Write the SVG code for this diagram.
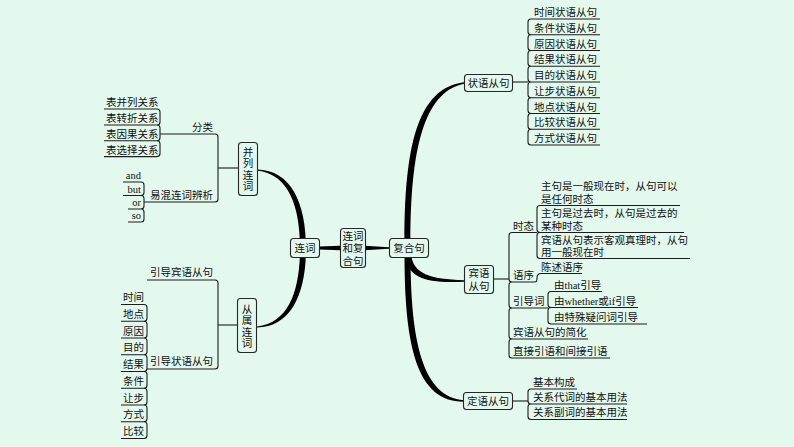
<svg xmlns="http://www.w3.org/2000/svg" width="794" height="447" viewBox="0 0 794 447">
<style>
.ln{fill:none;stroke:#1c1c1c;stroke-width:1.1}
.th{fill:#000;stroke:none}
.nd rect{fill:#e3f9ee;stroke:#262626;stroke-width:1.1}
text{font-family:"Liberation Serif","Noto Sans CJK SC","Noto Sans CJK JP",serif;font-size:10.5px;fill:#111}
.c{text-anchor:middle}
.e{text-anchor:end}
</style>
<rect width="794" height="447" fill="#e3f9ee"/>
<g id="connectors">
<path class="th" d="M319,246.6 L340,245.8 L340,250.2 L319,249.4 Z"/>
<path class="th" d="M365,245.8 L389,247.2 L389,248.8 L365,250.2 Z"/>
<path class="th" d="M257,169.5 C291,170 306,203 306,248 L300,248 C300,207 289,174 257,170.5 Z"/>
<path class="th" d="M257,327.5 C291,327 306,294 306,248 L300,248 C300,290 289,323 257,326.5 Z"/>
<path class="th" d="M404.5,242 C404.5,148 417,88 464,82.3 L464,83.7 C423,92 410.5,152 410.5,242 Z"/>
<path class="th" d="M404.5,254 C404.5,347 417,402 464,401.7 L464,400.3 C423,397 410.5,343 410.5,254 Z"/>
<path class="th" d="M405,254 C407,279 428,283.5 464,281.7 L464,280.3 C430,279 413,274 411,254 Z"/>
<path class="ln" d="M512,82H528"/>
<path class="ln" d="M600,19H531Q528,19 528,22V31.75Q528,34.75 531,34.75H600M531,34.75Q528,34.75 528,37.75V47.5Q528,50.5 531,50.5H600M531,50.5Q528,50.5 528,53.5V63.25Q528,66.25 531,66.25H600M531,66.25Q528,66.25 528,69.25V79Q528,82 531,82H600M531,82Q528,82 528,85V94.75Q528,97.75 531,97.75H600M531,97.75Q528,97.75 528,100.75V110.5Q528,113.5 531,113.5H600M531,113.5Q528,113.5 528,116.5V126.25Q528,129.25 531,129.25H600M531,129.25Q528,129.25 528,132.25V142Q528,145 531,145H600"/>
<path class="ln" d="M493,279H509"/>
<path class="ln" d="M537,232.5H512Q509,232.5 509,235.5V279Q509,282 512,282H535M512,282Q509,282 509,285V305Q509,308 512,308H548M512,308Q509,308 509,311V336Q509,339 512,339H588M512,339Q509,339 509,342V355Q509,358 512,358H610"/>
<path class="ln" d="M680,205.5H540Q537,205.5 537,208.5V229.5Q537,232.5 540,232.5H684M540,232.5Q537,232.5 537,235.5V255.5Q537,258.5 540,258.5H690"/>
<path class="ln" d="M535,282Q537,282 537,278Q537,273.5 541,273.5H582"/>
<path class="ln" d="M602,291.5H551Q548,291.5 548,294.5V304.5Q548,307.5 551,307.5H638M551,307.5Q548,307.5 548,310.5V321Q548,324 551,324H647"/>
<path class="ln" d="M512,401H528"/>
<path class="ln" d="M577,389H531Q528,389 528,392V401Q528,404 531,404H627M531,404Q528,404 528,407V416.5Q528,419.5 531,419.5H627"/>
<path class="ln" d="M218,168H238"/>
<path class="ln" d="M160,134H215Q218,134 218,137V199Q218,202 215,202H144"/>
<path class="ln" d="M104,109H157Q160,109 160,112V122Q160,125 157,125H104M157,125Q160,125 160,128V137.8Q160,140.8 157,140.8H104M157,140.8Q160,140.8 160,143.8V153.6Q160,156.6 157,156.6H104"/>
<path class="ln" d="M123,182H141Q144,182 144,185V192.5Q144,195.5 141,195.5H123M141,195.5Q144,195.5 144,198.5V206Q144,209 141,209H128M141,209Q144,209 144,212V219Q144,222 141,222H128"/>
<path class="ln" d="M218,325H237.5"/>
<path class="ln" d="M147,280H215Q218,280 218,283V366Q218,369 215,369H147"/>
<path class="ln" d="M121,304.5H144Q147,304.5 147,307.5V318.25Q147,321.25 144,321.25H121M144,321.25Q147,321.25 147,324.25V335Q147,338 144,338H121M144,338Q147,338 147,341V351.75Q147,354.75 144,354.75H121M144,354.75Q147,354.75 147,357.75V368.5Q147,371.5 144,371.5H121M144,371.5Q147,371.5 147,374.5V385.25Q147,388.25 144,388.25H121M144,388.25Q147,388.25 147,391.25V402Q147,405 144,405H121M144,405Q147,405 147,408V418.75Q147,421.75 144,421.75H121M144,421.75Q147,421.75 147,424.75V435.5Q147,438.5 144,438.5H121"/>
</g>
<g id="root" class="nd"><rect x="340.5" y="228.5" width="25" height="39" rx="3"/><text class="c" x="353" y="239.5">连词</text><text class="c" x="353" y="252">和复</text><text class="c" x="353" y="264.5">合句</text></g>
<g id="fuhejv" class="nd"><rect x="389.5" y="238.5" width="39" height="19" rx="3"/><text class="c" x="409" y="252">复合句</text></g>
<g id="lianci" class="nd"><rect x="290.5" y="238.5" width="29" height="19" rx="3"/><text class="c" x="305" y="252">连词</text></g>
<g id="zhuangyu" class="nd"><rect x="464.5" y="74.5" width="48" height="17" rx="3"/><text class="c" x="488.5" y="87">状语从句</text></g>
<g id="binyu" class="nd"><rect x="464.5" y="265.5" width="29" height="28" rx="3"/><text class="c" x="479" y="277">宾语</text><text class="c" x="479" y="289.5">从句</text></g>
<g id="dingyu" class="nd"><rect x="463.5" y="392.5" width="49" height="17" rx="3"/><text class="c" x="488" y="405">定语从句</text></g>
<g id="binglie" class="nd"><rect x="238.5" y="142.5" width="19" height="53" rx="3"/><text class="c" x="248" y="155.5">并</text><text class="c" x="248" y="167">列</text><text class="c" x="248" y="178.5">连</text><text class="c" x="248" y="190">词</text></g>
<g id="congshu" class="nd"><rect x="237.5" y="298.5" width="19" height="54" rx="3"/><text class="c" x="247" y="312.5">从</text><text class="c" x="247" y="324">属</text><text class="c" x="247" y="335.5">连</text><text class="c" x="247" y="347">词</text></g>
<g id="zhuangyu-items">
<text x="534" y="16">时间状语从句</text><text x="534" y="31.75">条件状语从句</text><text x="534" y="47.5">原因状语从句</text><text x="534" y="63.25">结果状语从句</text><text x="534" y="79">目的状语从句</text><text x="534" y="94.75">让步状语从句</text><text x="534" y="110.5">地点状语从句</text><text x="534" y="126.25">比较状语从句</text><text x="534" y="142">方式状语从句</text>
</g>
<g id="binyu-items">
<text x="513" y="229.5">时态</text><text x="513" y="279">语序</text><text x="513" y="305">引导词</text><text x="513" y="336">宾语从句的简化</text><text x="513" y="355">直接引语和间接引语</text>
<text x="541" y="190">主句是一般现在时，从句可以</text><text x="541" y="203">是任何时态</text>
<text x="541" y="217">主句是过去时，从句是过去的</text><text x="541" y="230">某种时态</text>
<text x="541" y="244">宾语从句表示客观真理时，从句</text><text x="541" y="255.5">用一般现在时</text>
<text x="541" y="270.5">陈述语序</text>
<text x="554" y="288.5">由that引导</text><text x="554" y="304.5">由whether或if引导</text><text x="554" y="321">由特殊疑问词引导</text>
</g>
<g id="dingyu-items">
<text x="533" y="385.5">基本构成</text><text x="533" y="400.5">关系代词的基本用法</text><text x="533" y="416">关系副词的基本用法</text>
</g>
<g id="binglie-items">
<text x="192" y="130.5">分类</text><text x="150" y="198.5">易混连词辨析</text>
<text x="106" y="106">表并列关系</text><text x="106" y="122">表转折关系</text><text x="106" y="137.8">表因果关系</text><text x="106" y="153.6">表选择关系</text>
<text class="e" x="141" y="179">and</text><text class="e" x="141" y="192.5">but</text><text class="e" x="141" y="206">or</text><text class="e" x="141" y="219">so</text>
</g>
<g id="congshu-items">
<text x="150" y="276">引导宾语从句</text><text x="150" y="365">引导状语从句</text>
<text x="123" y="301">时间</text><text x="123" y="317.75">地点</text><text x="123" y="334.5">原因</text><text x="123" y="351.25">目的</text><text x="123" y="368">结果</text><text x="123" y="384.75">条件</text><text x="123" y="401.5">让步</text><text x="123" y="418.25">方式</text><text x="123" y="435">比较</text>
</g>
</svg>
